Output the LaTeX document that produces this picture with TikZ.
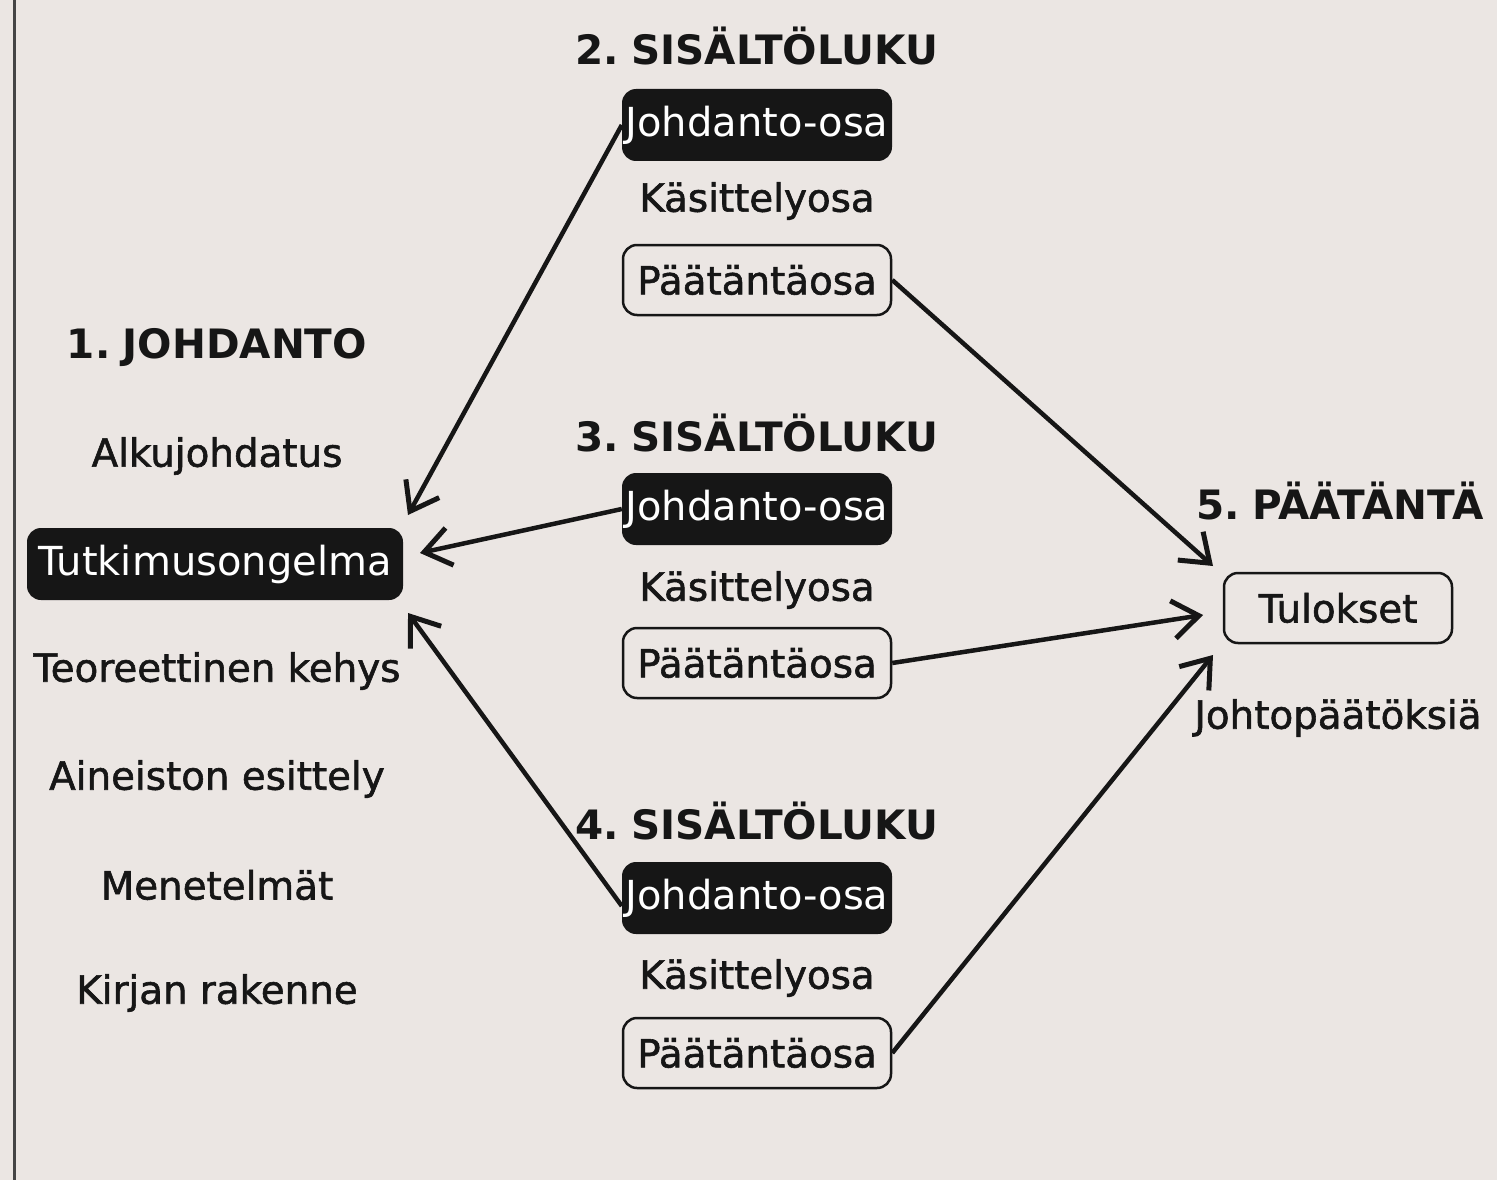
\documentclass[tikz,border=0pt]{standalone}
\usepackage{fontspec}
\setmainfont{DejaVu Sans}
\newfontfamily\heavyfont[FakeBold=1.5]{DejaVu Sans}
\usetikzlibrary{arrows.meta}
\definecolor{paper}{RGB}{235,230,227}
\definecolor{ink}{RGB}{22,22,22}
\begin{document}
\begin{tikzpicture}[x=1pt,y=-1pt,
  txt/.style={font=\heavyfont\fontsize{38.8}{44}\selectfont, text=ink, inner sep=0pt},
  head/.style={font=\fontsize{40.5}{44}\selectfont\bfseries, text=ink, inner sep=0pt},
  darkbox/.style={fill=ink, text=white, rounded corners=14pt, minimum height=72, inner sep=0pt, font=\fontsize{40}{44}\selectfont},
  lightbox/.style={draw=ink, line width=2.5pt, text=ink, rounded corners=14pt, minimum height=70, inner sep=0pt, font=\heavyfont\fontsize{38.8}{44}\selectfont},
  arr/.style={draw=ink, line width=4.5pt, -{Straight Barb[length=26pt,width=38pt,line width=5pt]}}
]
\useasboundingbox (0,0) rectangle (1497,1180);
\fill[paper] (0,0) rectangle (1497,1180);
\draw[line width=3pt, ink!80] (14,0) -- (14,1180);

% 1. Johdanto
\node[head] (h1) at (217,348) {1.\hspace{0.3em}JOHDANTO};
\node[txt] (alku) at (217,456) {Alkujohdatus};
\node[darkbox, minimum width=376] (tu) at (215,564) {Tutkimusongelma};
\node[txt] (teo) at (217,671) {Teoreettinen kehys};
\node[txt] (ain) at (217,779) {Aineiston esittely};
\node[txt] (men) at (217,885) {Menetelmät};
\node[txt] (kir) at (217,993) {Kirjan rakenne};

% 2. Sisältöluku
\node[head] (h2) at (757,46) {2.\hspace{0.3em}SISÄLTÖLUKU};
\node[darkbox, minimum width=270] (jo2) at (757,125) {Johdanto-osa};
\node[txt] (ka2) at (757,201) {Käsittelyosa};
\node[lightbox, minimum width=268] (pa2) at (757,280) {Päätäntäosa};

% 3. Sisältöluku
\node[head] (h3) at (757,433) {3.\hspace{0.3em}SISÄLTÖLUKU};
\node[darkbox, minimum width=270] (jo3) at (757,509) {Johdanto-osa};
\node[txt] (ka3) at (757,590) {Käsittelyosa};
\node[lightbox, minimum width=268] (pa3) at (757,663) {Päätäntäosa};

% 4. Sisältöluku
\node[head] (h4) at (757,821) {4.\hspace{0.3em}SISÄLTÖLUKU};
\node[darkbox, minimum width=270] (jo4) at (757,898) {Johdanto-osa};
\node[txt] (ka4) at (757,978) {Käsittelyosa};
\node[lightbox, minimum width=268] (pa4) at (757,1053) {Päätäntäosa};

% 5. Päätäntä
\node[head] (h5) at (1340,501) {5.\hspace{0.3em}PÄÄTÄNTÄ};
\node[lightbox, minimum width=228] (tul) at (1338,608) {Tulokset};
\node[txt] (joh) at (1338,718) {Johtopäätöksiä};

% arrow ends
\coordinate (e2) at (408,515);
\coordinate (e3) at (420,553);
\coordinate (e4) at (408,613);
\coordinate (t2) at (1213,566);
\coordinate (t3) at (1203,615);
\coordinate (t4) at (1213,655);

\draw[arr] (jo2.west) -- (e2);
\draw[arr] (jo3.west) -- (e3);
\draw[arr] ([yshift=-8pt]jo4.west) -- (e4);
\draw[arr] (pa2.east) -- (t2);
\draw[arr] (pa3.east) -- (t3);
\draw[arr] (pa4.east) -- (t4);
\end{tikzpicture}
\end{document}
